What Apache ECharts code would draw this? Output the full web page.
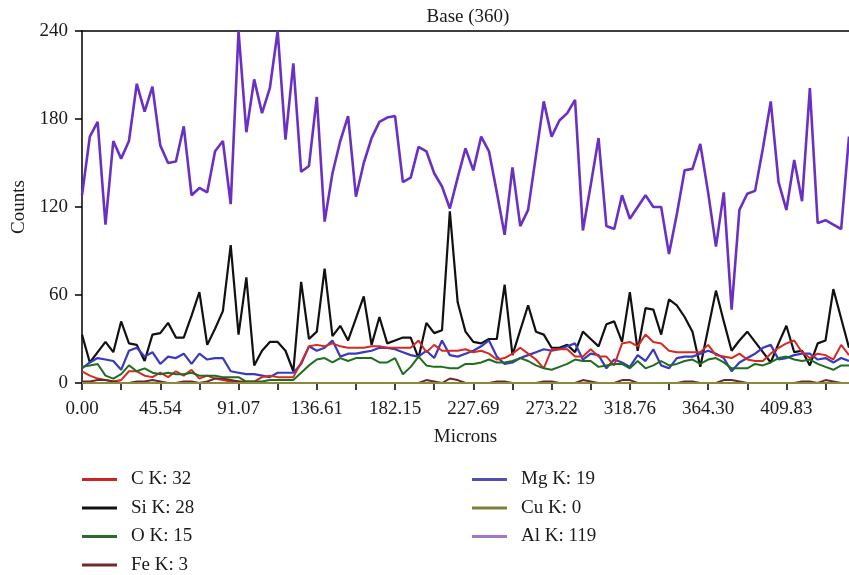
<!DOCTYPE html>
<html>
<head>
<meta charset="utf-8">
<script src="https://cdn.jsdelivr.net/npm/echarts@6/dist/echarts.min.js"></script>
<style>
  html, body { margin: 0; padding: 0; background: #fff; }
  #chart { width: 849px; height: 575px; }
</style>
</head>
<body>
<div id="chart"></div>
<script>
// Sample positions along the line scan (microns)
const positions = [
  '0.00','4.55','9.11','13.66','18.22','22.77','27.32','31.88','36.43','40.98',
  '45.54','50.09','54.65','59.20','63.75','68.31','72.86','77.41','81.97','86.52',
  '91.08','95.63','100.18','104.74','109.29','113.85','118.40','122.95','127.51','132.06',
  '136.61','141.17','145.72','150.28','154.83','159.38','163.94','168.49','173.04','177.60',
  '182.15','186.71','191.26','195.81','200.37','204.92','209.47','214.03','218.58','223.14',
  '227.69','232.24','236.80','241.35','245.91','250.46','255.01','259.57','264.12','268.67',
  '273.23','277.78','282.34','286.89','291.44','296.00','300.55','305.10','309.66','314.21',
  '318.77','323.32','327.87','332.43','336.98','341.54','346.09','350.64','355.20','359.75',
  '364.30','368.86','373.41','377.97','382.52','387.07','391.63','396.18','400.73','405.29',
  '409.84','414.40','418.95','423.50','428.06','432.61','437.16','441.72','446.27'
];

// Tick labels for the x axis (every 10th sample)
const xTickLabels = ['0.00','45.54','91.07','136.61','182.15','227.69','273.22','318.76','364.30','409.83'];

// Series counts
const alK = [
  128,168,178,108,165,153,165,204,185,202,
  162,150,151,175,128,133,130,158,165,122,
  240,171,207,184,201,240,166,218,144,148,
  195,110,143,165,182,127,150,167,178,181,
  182,137,140,161,158,143,134,119,140,160,
  145,168,158,130,101,147,107,118,155,192,
  168,179,184,193,104,135,167,107,105,128,
  112,120,128,120,120,88,115,145,146,163,
  130,93,130,50,118,129,131,160,192,137,
  118,152,124,201,109,111,108,105,168
];
const siK = [
  33,14,21,28,21,42,27,26,15,33,
  34,41,31,31,46,62,26,37,49,94,
  33,72,12,22,28,28,22,8,69,30,
  35,78,32,39,29,44,59,26,45,27,
  29,31,31,17,41,34,36,117,55,35,
  28,27,30,30,67,19,36,53,35,33,
  24,24,26,21,35,30,25,40,42,28,
  62,22,51,50,33,57,53,45,35,11,
  37,63,42,22,29,35,28,21,14,27,
  39,21,22,12,27,29,64,44,24
];
const mgK = [
  10,14,17,16,15,9,22,24,18,21,
  13,18,17,20,13,20,16,17,17,8,
  7,6,6,5,4,7,7,7,13,25,
  22,24,29,18,20,20,21,22,24,24,
  23,21,19,18,22,17,29,19,18,20,
  22,25,29,18,13,14,17,19,21,23,
  22,23,25,27,16,20,19,10,16,14,
  11,19,15,23,12,10,17,18,18,20,
  22,20,17,8,14,17,20,24,26,16,
  17,19,20,20,16,17,14,17,15
];
const cK = [
  8,5,3,2,1,2,8,8,5,4,
  7,4,8,5,9,3,5,3,2,1,
  1,1,1,4,5,4,4,4,14,25,
  26,25,27,25,24,24,24,25,25,24,
  24,24,24,29,21,26,22,22,22,23,
  21,22,20,16,17,20,24,20,16,10,
  23,23,23,18,18,23,18,18,12,27,
  28,25,33,28,27,22,21,21,21,21,
  26,19,18,17,20,16,15,15,20,24,
  27,29,21,17,20,19,16,26,19
];
const oK = [
  11,12,13,5,3,6,12,8,10,7,
  6,7,6,6,7,5,5,5,4,4,
  4,1,1,1,2,2,2,2,7,12,
  16,17,14,17,15,17,17,17,14,14,
  17,6,11,18,12,11,11,10,10,13,
  13,14,16,14,14,15,17,15,12,10,
  9,11,13,16,15,15,11,12,13,13,
  10,15,10,12,15,12,13,15,16,13,
  16,17,14,10,10,10,13,12,14,17,
  18,16,15,16,13,11,9,12,12
];
const feK = [
  1,1,2,2,1,0,0,1,1,2,
  1,0,0,1,1,0,1,3,3,2,
  1,0,0,0,0,0,0,0,0,0,
  0,0,0,0,0,0,0,0,0,0,
  0,0,0,0,2,1,0,3,2,0,
  0,0,0,1,1,0,0,0,0,1,
  1,0,0,0,2,1,0,0,0,2,
  2,0,0,0,0,0,0,1,1,0,
  0,0,2,2,1,0,0,0,0,0,
  0,0,1,1,0,2,1,0,0
];
const cuK = [
  0,0,0,0,0,0,0,0,0,0,
  0,0,0,0,0,0,0,0,0,0,
  0,0,0,0,0,0,0,0,0,0,
  0,0,0,0,0,0,0,0,0,0,
  0,0,0,0,0,0,0,0,0,0,
  0,0,0,0,0,0,0,0,0,0,
  0,0,0,0,0,0,0,0,0,0,
  0,0,0,0,0,0,0,0,0,0,
  0,0,0,0,0,0,0,0,0,0,
  0,0,0,0,0,0,0,0,0
];

const seriesNames = ['C K: 32','Si K: 28','O K: 15','Fe K: 3','Mg K: 19','Cu K: 0','Al K: 119'];
const yTicks = [0, 60, 120, 180, 240];

const FONT = 'Liberation Serif';
const TXT = '#1a1a1a';

const chart = echarts.init(document.getElementById('chart'), null, { renderer: 'canvas' });

function lineSeries(name, data, color, width, z) {
  return {
    name: name,
    type: 'line',
    data: data,
    symbol: 'none',
    showSymbol: false,
    z: z,
    lineStyle: { color: color, width: width },
    itemStyle: { color: color },
    emphasis: { disabled: true }
  };
}

const legendText = { fontFamily: FONT, fontSize: 19, color: TXT, padding: [0, 0, 0, 9] };

chart.setOption({
  animation: false,
  backgroundColor: '#ffffff',
  title: {
    text: 'Base (360)',
    left: 468,
    top: 8,
    padding: 0,
    textAlign: 'center',
    textStyle: { fontFamily: FONT, fontSize: 19, fontWeight: 'normal', color: TXT }
  },
  grid: { left: 82, right: 0, top: 31, bottom: 192, containLabel: false, outerBoundsMode: 'none' },
  legend: [
    {
      data: [
        { name: seriesNames[0], itemStyle: { color: '#cc2424' } },
        { name: seriesNames[1], itemStyle: { color: '#111111' } },
        { name: seriesNames[2], itemStyle: { color: '#2a6a2a' } },
        { name: seriesNames[3], itemStyle: { color: '#6b2d2d' } }
      ],
      orient: 'vertical', left: 82, top: 470, height: 130, itemGap: 9.5, padding: 0,
      icon: 'rect', itemWidth: 35, itemHeight: 3,
      textStyle: legendText, selectedMode: false
    },
    {
      data: [
        { name: seriesNames[4], itemStyle: { color: '#5050b4' } },
        { name: seriesNames[5], itemStyle: { color: '#808040' } },
        { name: seriesNames[6], itemStyle: { color: '#a474cc' } }
      ],
      orient: 'vertical', left: 472, top: 470, height: 130, itemGap: 9.5, padding: 0,
      icon: 'rect', itemWidth: 35, itemHeight: 3,
      textStyle: legendText, selectedMode: false
    }
  ],
  xAxis: [
    {
      type: 'category',
      data: positions,
      boundaryGap: false,
      name: 'Microns',
      nameLocation: 'middle',
      nameGap: 45,
      nameTextStyle: { fontFamily: FONT, fontSize: 19, color: TXT },
      axisLine: { show: true, lineStyle: { color: '#000', width: 1.5 } },
      axisTick: { show: true, interval: 4, length: 7, lineStyle: { color: '#000', width: 1.5 } },
      axisLabel: {
        interval: 9,
        margin: 17,
        fontFamily: FONT, fontSize: 19, color: TXT,
        formatter: function (v, idx) { return xTickLabels[Math.round(idx / 10)] || ''; }
      },
      splitLine: { show: false }
    },
    {
      type: 'category',
      data: positions,
      boundaryGap: false,
      position: 'top',
      axisLine: { show: true, lineStyle: { color: '#000', width: 1.5 } },
      axisTick: { show: false },
      axisLabel: { show: false },
      splitLine: { show: false }
    }
  ],
  yAxis: {
    type: 'value',
    min: yTicks[0],
    max: yTicks[yTicks.length - 1],
    interval: 60,
    name: 'Counts',
    nameLocation: 'middle',
    nameGap: 51,
    nameRotate: 90,
    nameTextStyle: { fontFamily: FONT, fontSize: 19, color: TXT },
    axisLine: { show: true, lineStyle: { color: '#000', width: 1.5 } },
    axisTick: { show: true, length: 7, lineStyle: { color: '#000', width: 1.5 } },
    axisLabel: { margin: 14, fontFamily: FONT, fontSize: 19, color: TXT },
    splitLine: { show: false }
  },
  series: [
    lineSeries(seriesNames[6], alK, '#6a30c4', 2.6, 2),
    lineSeries(seriesNames[1], siK, '#111111', 2.2, 3),
    lineSeries(seriesNames[4], mgK, '#3a3ac0', 2.2, 4),
    lineSeries(seriesNames[0], cK, '#d42a22', 2, 5),
    lineSeries(seriesNames[2], oK, '#1e6e1e', 2, 6),
    lineSeries(seriesNames[3], feK, '#6b2a2a', 2, 7),
    lineSeries(seriesNames[5], cuK, '#8a8a3a', 2, 8)
  ]
});
</script>
</body>
</html>
